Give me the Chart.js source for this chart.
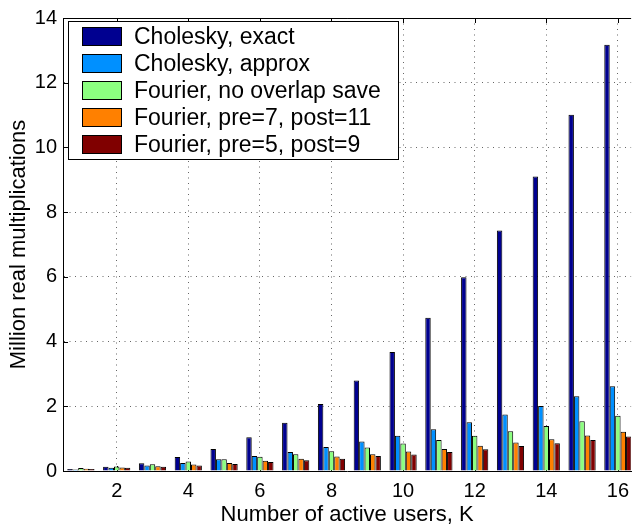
<!DOCTYPE html>
<html lang="en">
<head>
  <meta charset="UTF-8">
  <title>Million real multiplications vs active users</title>
  <script src="https://cdn.jsdelivr.net/npm/chart.js"></script>
  <style>
    html, body {
      margin: 0;
      padding: 0;
      background: #fff;
    }
    #wrap {
      width: 637px;
      height: 526px;
    }
  </style>
</head>
<body>
  <div id="wrap">
    <canvas id="chart"></canvas>
  </div>

  <script>
    // data (million real multiplications)
    const users = [1, 2, 3, 4, 5, 6, 7, 8, 9, 10, 11, 12, 13, 14, 15, 16];
    const xTickValues = [2, 4, 6, 8, 10, 12, 14, 16];
    const yTickValues = [0, 2, 4, 6, 8, 10, 12, 14];

    const seriesNames = [
      'Cholesky, exact',
      'Cholesky, approx',
      'Fourier, no overlap save',
      'Fourier, pre=7, post=11',
      'Fourier, pre=5, post=9'
    ];
    const choleskyExact  = [0.06, 0.13, 0.24, 0.43, 0.68, 1.04, 1.49, 2.07, 2.80, 3.68, 4.74, 5.99, 7.43, 9.10, 11.01, 13.17];
    const choleskyApprox = [0.05, 0.10, 0.17, 0.25, 0.36, 0.46, 0.59, 0.74, 0.91, 1.09, 1.29, 1.51, 1.75, 2.01, 2.31, 2.62];
    const fourierNoOls   = [0.09, 0.14, 0.21, 0.29, 0.36, 0.44, 0.52, 0.61, 0.73, 0.85, 0.96, 1.09, 1.23, 1.39, 1.54, 1.71];
    const fourierPre7    = [0.07, 0.11, 0.15, 0.20, 0.25, 0.32, 0.38, 0.45, 0.52, 0.60, 0.68, 0.78, 0.88, 0.98, 1.10, 1.21];
    const fourierPre5    = [0.06, 0.10, 0.13, 0.17, 0.22, 0.28, 0.33, 0.38, 0.46, 0.51, 0.59, 0.67, 0.77, 0.86, 0.96, 1.07];

    const allSeries = [choleskyExact, choleskyApprox, fourierNoOls, fourierPre7, fourierPre5];
    const colors = ['#000090', '#0090FF', '#8CFF80', '#FF8000', '#800000'];

    const FONT = '"Liberation Sans", Arial, Helvetica, sans-serif';
    const GRID = 'rgba(0,0,0,0.6)';

    // legend inside the axes, matlab style
    const boxLegend = {
      id: 'boxLegend',
      afterDraw(chart) {
        const ctx = chart.ctx;
        const x0 = 68, y0 = 21, w = 330, h = 138;
        ctx.save();
        ctx.fillStyle = '#fff';
        ctx.fillRect(x0, y0, w, h);
        ctx.strokeStyle = '#000';
        ctx.lineWidth = 1;
        ctx.strokeRect(x0 + 0.5, y0 + 0.5, w, h);
        ctx.font = '23px ' + FONT;
        ctx.textBaseline = 'middle';
        chart.data.datasets.forEach((ds, i) => {
          const cy = 36.5 + i * 27;
          ctx.fillStyle = ds.backgroundColor;
          ctx.fillRect(82, cy - 9.5, 40, 19);
          ctx.strokeStyle = '#000';
          ctx.strokeRect(82.5, cy - 9, 39, 18);
          ctx.fillStyle = '#000';
          ctx.fillText(ds.label, 134, cy + 1);
        });
        ctx.restore();
      }
    };

    // top frame line and inward tick marks
    const axesFrame = {
      id: 'axesFrame',
      beforeDatasetsDraw(chart) {
        const ctx = chart.ctx;
        const a = chart.chartArea;
        const xs = chart.scales.x, ys = chart.scales.y;
        ctx.save();
        ctx.strokeStyle = '#000';
        ctx.lineWidth = 1;
        ctx.beginPath();
        ctx.moveTo(a.left, a.top + 0.5);
        ctx.lineTo(a.right, a.top + 0.5);
        xTickValues.forEach(v => {
          const px = Math.round(xs.getPixelForValue(v)) + 0.5;
          ctx.moveTo(px, a.top);
          ctx.lineTo(px, a.top + 5);
          ctx.moveTo(px, a.bottom);
          ctx.lineTo(px, a.bottom - 5);
        });
        yTickValues.forEach(v => {
          const py = Math.round(ys.getPixelForValue(v)) + 0.5;
          ctx.moveTo(a.left, py);
          ctx.lineTo(a.left + 5, py);
        });
        ctx.stroke();
        ctx.restore();
      }
    };

    const datasets = allSeries.map((vals, i) => ({
      label: seriesNames[i],
      data: vals.map((v, j) => ({ x: users[j], y: v })),
      backgroundColor: colors[i],
      borderColor: '#000',
      borderWidth: 1,
      categoryPercentage: 0.76,
      barPercentage: 1.0
    }));

    new Chart(document.getElementById('chart'), {
      type: 'bar',
      data: { datasets: datasets },
      options: {
        responsive: true,
        maintainAspectRatio: false,
        animation: false,
        layout: { padding: { top: 14, right: 0, left: 0, bottom: 0 } },
        plugins: {
          legend: { display: false },
          tooltip: { enabled: false }
        },
        scales: {
          x: {
            type: 'linear',
            offset: false,
            min: 0.5,
            max: 16.37,
            afterBuildTicks: (scale) => {
              scale.ticks = xTickValues.map(v => ({ value: v }));
            },
            afterFit: (scale) => { scale.height = 55; },
            ticks: {
              color: '#000',
              font: { family: FONT, size: 20 },
              padding: 8,
              maxRotation: 0,
              autoSkip: false
            },
            grid: {
              offset: false,
              drawTicks: false,
              color: GRID,
              lineWidth: 1
            },
            border: { display: true, color: '#000', width: 1, dash: [1, 4.5] },
            title: {
              display: true,
              text: 'Number of active users, K',
              color: '#000',
              font: { family: FONT, size: 22, lineHeight: 1 },
              padding: { top: 0, bottom: 0 }
            }
          },
          y: {
            min: 0,
            max: 14,
            afterBuildTicks: (scale) => {
              scale.ticks = yTickValues.map(v => ({ value: v }));
            },
            afterFit: (scale) => { scale.width = 63; },
            ticks: {
              color: '#000',
              font: { family: FONT, size: 20 },
              padding: 6
            },
            grid: {
              drawTicks: false,
              color: (c) => (c.tick && (c.tick.value === 0 || c.tick.value === 14)) ? 'rgba(0,0,0,0)' : GRID,
              lineWidth: 1
            },
            border: { display: true, color: '#000', width: 1, dash: [1, 4.5] },
            title: {
              display: true,
              text: 'Million real multiplications',
              color: '#000',
              font: { family: FONT, size: 22, lineHeight: 1 },
              padding: { top: 8, bottom: 0 }
            }
          }
        }
      },
      plugins: [axesFrame, boxLegend]
    });
  </script>
</body>
</html>
